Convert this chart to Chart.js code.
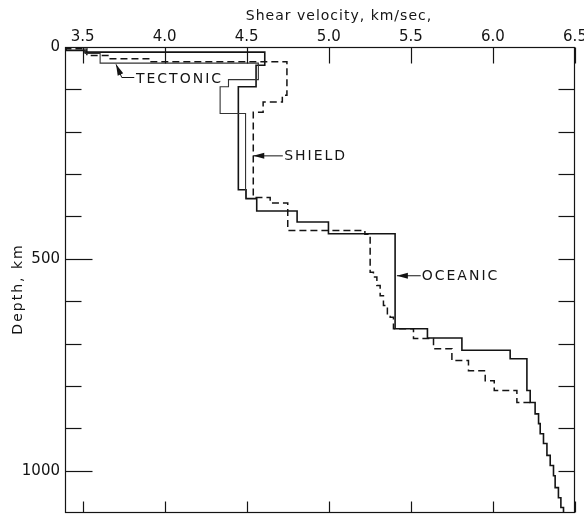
<!DOCTYPE html>
<html>
<head>
<meta charset="utf-8">
<script src="https://cdn.jsdelivr.net/npm/chart.js@4.4.1/dist/chart.umd.min.js"></script>
<style>
  html, body { margin: 0; padding: 0; background: #fff; }
  #wrap { width: 584px; height: 519px; position: relative; }
</style>
</head>
<body>
<div id="wrap"><canvas id="vs"></canvas></div>
<script>
// Shear velocity vs depth: three step models (tectonic, shield, oceanic).
const INK = '#141414';
const FONT = "'DejaVu Sans', sans-serif";

const xTickValues = [3.5, 4.0, 4.5, 5.0, 5.5, 6.0, 6.5];
const depthTickValues = [100, 200, 300, 400, 500, 600, 700, 800, 900, 1000];
const depthLabelValues = [0, 500, 1000];

// layer boundaries (km) and the shear velocity (km/s) inside each layer
const tectonicDepth = [0, 15, 38, 77, 94, 157, 358];
const tectonicVs = [3.515, 3.607, 4.571, 4.389, 4.338, 4.493];

const shieldDepth = [0, 4, 20, 27.6, 35, 114, 130, 154, 355, 368, 433, 442, 532, 543, 563,
  587, 610, 634, 638, 665, 688, 712, 740, 764, 788, 811, 839, 839];
const shieldVs = [3.40, 3.526, 3.66, 3.91, 4.745, 4.717, 4.60, 4.54, 4.643, 4.75, 5.22, 5.252, 5.272, 5.293,
  5.313, 5.333, 5.357, 5.374, 5.394, 5.516, 5.638, 5.75, 5.851, 5.953, 6.008, 6.146, 6.227];

const oceanicDepth = [0, 8, 12, 43, 94, 337, 358, 387, 413, 441, 665, 687, 716, 736,
  811, 839, 866, 889, 913, 936, 964, 988, 1012, 1040, 1064, 1087, 1110];
const oceanicVs = [3.40, 3.515, 4.61, 4.557, 4.449, 4.496, 4.561, 4.807, 4.998, 5.404, 5.601, 5.811, 6.105,
  6.207, 6.227, 6.257, 6.278, 6.288, 6.308, 6.329, 6.349, 6.369, 6.379, 6.399, 6.414, 6.430];

// labels and their arrows (data units: km/s, km)
const labelNames = ['TECTONIC', 'SHIELD', 'OCEANIC'];
const labelVs = [3.825, 4.728, 5.566];
const labelDepth = [76, 258, 541];
const leaderVs = [[3.815, 3.739, 3.704], [4.72, 4.54], [5.56, 5.415]];
const leaderDepth = [[72, 72, 41], [257, 257], [540, 540]];

function steps(depths, vs) {
  const pts = [];
  vs.forEach((v, i) => { pts.push({ x: v, y: depths[i] }, { x: v, y: depths[i + 1] }); });
  return pts;
}

function line(ctx, x1, y1, x2, y2) {
  ctx.beginPath(); ctx.moveTo(x1, y1); ctx.lineTo(x2, y2); ctx.stroke();
}

const frameAndNotes = {
  id: 'frameAndNotes',
  afterDatasetsDraw(chart) {
    const { ctx, chartArea: a, scales: { x, y } } = chart;
    const L = Math.round(a.left) + 0.5, R = Math.round(a.right) - 0.5;
    const T = Math.round(a.top) + 0.5, B = Math.round(a.bottom) - 0.5;
    ctx.save();
    ctx.strokeStyle = INK;
    ctx.lineWidth = 1.2;
    ctx.strokeRect(L, T, R - L, B - T);

    // inward tick marks on all four sides
    xTickValues.forEach((v) => {
      const px = Math.round(x.getPixelForValue(v)) + 0.5;
      line(ctx, px, T, px, T + 16);
      line(ctx, px, B, px, B - 11);
    });
    depthTickValues.forEach((d) => {
      const py = Math.round(y.getPixelForValue(d)) + 0.5;
      line(ctx, L, py, L + (d % 500 === 0 ? 27 : 16), py);
      line(ctx, R, py, R - 16, py);
    });

    // curve labels with arrows
    ctx.fillStyle = INK;
    ctx.lineWidth = 1;
    labelNames.forEach((name, i) => {
      const xs = leaderVs[i].map((v) => x.getPixelForValue(v));
      const ys = leaderDepth[i].map((d) => y.getPixelForValue(d));
      ctx.beginPath();
      ctx.moveTo(xs[0], ys[0]);
      for (let k = 1; k < xs.length; k++) ctx.lineTo(xs[k], ys[k]);
      ctx.stroke();
      const n = xs.length - 1;
      const ang = Math.atan2(ys[n] - ys[n - 1], xs[n] - xs[n - 1]);
      ctx.save();
      ctx.translate(xs[n], ys[n]);
      ctx.rotate(ang);
      ctx.beginPath();
      ctx.moveTo(0, 0); ctx.lineTo(-11, -3); ctx.lineTo(-11, 3); ctx.closePath();
      ctx.fill();
      ctx.restore();

      ctx.font = `14px ${FONT}`;
      ctx.letterSpacing = '2px';
      ctx.textAlign = 'left';
      ctx.textBaseline = 'middle';
      ctx.fillText(name, x.getPixelForValue(labelVs[i]), y.getPixelForValue(labelDepth[i]));
    });

    // axis titles
    ctx.font = `14px ${FONT}`;
    ctx.letterSpacing = '1px';
    ctx.textAlign = 'center';
    ctx.textBaseline = 'middle';
    ctx.fillText('Shear velocity, km/sec,', 339, 16);
    ctx.translate(18, 289);
    ctx.rotate(-Math.PI / 2);
    ctx.letterSpacing = '2px';
    ctx.fillText('Depth, km', 0, 0);
    ctx.restore();
  },
};

const tickFont = { family: FONT, size: 15 };

new Chart(document.getElementById('vs'), {
  type: 'scatter',
  data: {
    datasets: [
      { label: 'Tectonic', data: steps(tectonicDepth, tectonicVs), showLine: true, pointRadius: 0,
        borderColor: '#333', borderWidth: 1.1 },
      { label: 'Shield', data: steps(shieldDepth, shieldVs), showLine: true, pointRadius: 0,
        borderColor: INK, borderWidth: 1.5, borderDash: [7, 4] },
      { label: 'Oceanic', data: steps(oceanicDepth, oceanicVs), showLine: true, pointRadius: 0,
        borderColor: INK, borderWidth: 1.6 },
    ],
  },
  options: {
    responsive: true,
    maintainAspectRatio: false,
    animation: false,
    layout: { padding: { top: 0, left: 0, right: 9, bottom: 6 } },
    plugins: { legend: { display: false }, tooltip: { enabled: false } },
    scales: {
      x: {
        type: 'linear', position: 'top', min: 3.393, max: 6.5,
        afterBuildTicks: (s) => { s.ticks = xTickValues.map((v) => ({ value: v })); },
        afterFit: (s) => { s.height = 47; s.paddingLeft = 0; s.paddingRight = 0; },
        grid: { display: false, drawTicks: false },
        border: { display: false },
        ticks: { color: INK, font: tickFont, padding: 1, maxRotation: 0, callback: (v) => v.toFixed(1) },
      },
      y: {
        type: 'linear', reverse: true, min: 0, max: 1100,
        afterBuildTicks: (s) => { s.ticks = depthLabelValues.map((v) => ({ value: v })); },
        afterFit: (s) => { s.width = 65; s.paddingTop = 0; s.paddingBottom = 0; },
        grid: { display: false, drawTicks: false },
        border: { display: false },
        ticks: { color: INK, font: tickFont, padding: 5, callback: (v) => String(v) },
      },
    },
  },
  plugins: [frameAndNotes],
});
</script>
</body>
</html>
